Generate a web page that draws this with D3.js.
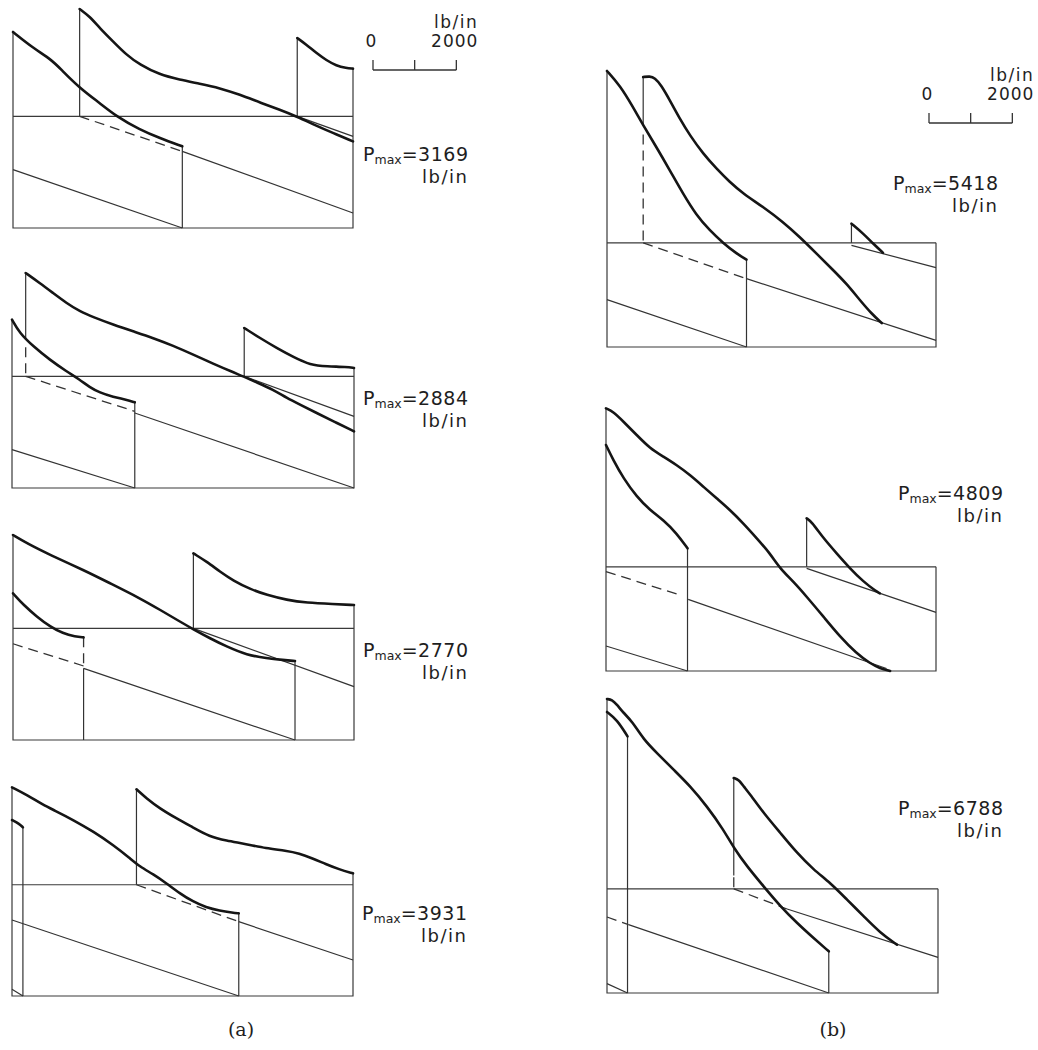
<!DOCTYPE html>
<meta charset="utf-8">
<script src="https://d3js.org/d3.v7.min.js"></script>
<style>
  body { margin: 0; background: #fff; }
  text { font-family: "DejaVu Sans", sans-serif; fill: #1e1e1e; }
</style>
<div id="chart"></div>
<script>
// pressure distributions, x = % of length, values in lb/in above the base line
var panelNames = ["a1", "a2", "a3", "a4", "b1", "b2", "b3"];
var pmaxValues = [3169, 2884, 2770, 3931, 5418, 4809, 6788];
var midLevels = [2680, 2680, 2680, 2670, 2500, 2500, 2500];
var leftEdgeTops = [4704, 4040, 4920, 5008, 6624, 6304, 7056];
var rightEdgeTops = [3824, 2880, 3240, 2944, 2500, 2500, 2500];
var scaleTicks = [0, 1000, 2000];

// ---- (a) ----
var a1Thick = [
  [[0,4704],[5.9,4320],[11.3,4040],[14.2,3800],[19.6,3360],[25.5,3000],[30.4,2680],[37.3,2360],[43.1,2160],[49.8,1960]],
  [[19.6,5256],[22.5,5080],[25.5,4800],[29.4,4480],[33.3,4160],[37.3,3920],[43.1,3680],[49.0,3560],[54.9,3464],[60.8,3360],[66.7,3200],[72.5,3016],[78.4,2840],[83.3,2680],[89.2,2456],[94.1,2280],[100,2080]],
  [[83.6,4560],[86.3,4400],[89.2,4200],[92.2,4024],[95.1,3896],[98.0,3840],[100,3824]]
];
var a1Thin = [
  [[19.6,2680],[19.6,5256]], [[49.8,1960],[49.8,0]], [[83.6,2680],[83.6,4560]],
  [[49.8,1840],[100,360]], [[83.6,2680],[100,2200]], [[0,1400],[49.8,0]]
];
var a1Dashed = [ [[19.6,2680],[49.8,1840]] ];

var a2Thick = [
  [[0,4040],[2.2,3720],[6.2,3400],[11.0,3080],[15.9,2800],[19.8,2600],[22.7,2420],[25.6,2290],[29.6,2184],[33.5,2120],[35.9,2056]],
  [[4.0,5160],[8.1,4920],[12.0,4680],[15.9,4440],[19.8,4240],[23.7,4104],[29.6,3920],[35.4,3760],[41.3,3600],[47.1,3416],[53.0,3200],[58.8,2984],[64.7,2776],[67.6,2680],[71.5,2536],[76.4,2360],[80.3,2160],[84.2,2000],[89.1,1800],[94.0,1600],[100,1360]],
  [[67.9,3840],[72.5,3600],[77.4,3360],[82.3,3144],[87.2,2952],[92.1,2920],[97.9,2904],[100,2880]]
];
var a2Thin = [
  [[4.0,5160],[4.0,3600]], [[35.9,2056],[35.9,0]], [[67.9,2680],[67.9,3840]],
  [[35.9,1800],[100,0]], [[67.9,2680],[100,1720]], [[0,920],[35.9,0]]
];
var a2Dashed = [ [[4.0,2680],[35.9,1840]], [[4.0,3380],[4.0,2680]] ];

var a3Thick = [
  [[0,4920],[4.1,4720],[10.9,4440],[20.7,4080],[28.5,3760],[37.3,3400],[43.2,3120],[49.0,2840],[52.9,2656],[57.8,2440],[62.7,2240],[68.6,2040],[74.4,1960],[79.3,1920],[82.7,1896]],
  [[0,3520],[3.1,3240],[7.0,2960],[10.9,2720],[14.6,2560],[18.3,2480],[20.7,2464]],
  [[52.9,4480],[56.8,4280],[60.7,4040],[64.6,3824],[69.5,3624],[74.4,3480],[80.3,3360],[86.1,3296],[93.9,3264],[100,3240]]
];
var a3Thin = [
  [[20.7,1720],[20.7,0]], [[82.7,1896],[82.7,0]], [[52.9,2680],[52.9,4480]],
  [[20.7,1720],[82.7,0]], [[52.9,2680],[100,1280]]
];
var a3Dashed = [ [[0,2310],[20.7,1776]], [[20.7,2464],[20.7,1720]] ];

var a4Thick = [
  [[0,5008],[4.4,4824],[9.2,4584],[12.2,4464],[18.0,4224],[23.9,3944],[29.7,3624],[34.6,3304],[37.5,3104],[41.4,2924],[45.3,2704],[49.2,2464],[53.1,2264],[56.9,2128],[60.9,2048],[64.8,2000],[66.5,1984]],
  [[36.5,4960],[39.4,4744],[43.3,4504],[48.2,4264],[53.0,4048],[57.9,3824],[62.8,3728],[68.6,3648],[74.5,3544],[80.4,3488],[84.2,3424],[88.1,3304],[92.0,3168],[95.9,3040],[100,2944]],
  [[0,4224],[2.2,4130],[3.2,4048]]
];
var a4Thin = [
  [[3.2,4048],[3.2,0]], [[0,160],[3.2,0]], [[36.5,2670],[36.5,4960]],
  [[66.5,1984],[66.5,0]], [[66.5,1784],[100,864]], [[0,1824],[66.5,0]]
];
var a4Dashed = [ [[36.5,2670],[66.5,1784]] ];

// ---- (b) ----
var b1Thick = [
  [[0,6624],[3.9,6280],[7.9,5760],[11.0,5320],[15.0,4800],[19.1,4240],[23.1,3680],[27.2,3160],[31.2,2800],[35.3,2496],[39.4,2240],[42.4,2096]],
  [[11.0,6480],[13.0,6496],[14.5,6464],[16.5,6280],[19.1,5920],[22.1,5480],[25.2,5080],[29.2,4640],[33.3,4280],[37.3,3960],[41.4,3680],[47.5,3360],[53.5,3000],[58.6,2640],[63.7,2240],[68.8,1840],[72.8,1520],[76.9,1120],[80.4,800],[83.5,576]],
  [[74.3,2960],[77.9,2720],[80.9,2480],[83.9,2260]]
];
var b1Thin = [
  [[11.0,6480],[11.0,5320]], [[42.4,2096],[42.4,0]], [[74.3,2500],[74.3,2960]],
  [[42.4,1640],[100,160]], [[74.3,2440],[100,1904]], [[0,1136],[42.4,0]]
];
var b1Dashed = [ [[11.0,2500],[42.4,1640]], [[11.0,5100],[11.0,2500]] ];

var b2Thick = [
  [[0,6304],[2.2,6224],[5.3,5984],[9.3,5664],[13.3,5344],[17.4,5144],[21.4,4944],[25.5,4704],[29.5,4424],[33.5,4144],[37.6,3864],[41.6,3544],[45.7,3184],[49.7,2824],[52.7,2464],[56.8,2144],[60.8,1784],[65.9,1304],[70.9,824],[75.9,424],[80.0,184],[83.0,64],[86.1,0]],
  [[0,5424],[2.2,5064],[5.3,4624],[9.3,4184],[13.3,3864],[17.4,3624],[21.4,3304],[24.7,2944]],
  [[60.8,3664],[62.3,3584],[65.9,3184],[69.9,2824],[73.9,2464],[78.0,2144],[82.0,1904],[83.0,1864]]
];
var b2Thin = [
  [[24.7,2944],[24.7,0]], [[60.8,2500],[60.8,3664]],
  [[24.9,1720],[85,60]], [[60.8,2464],[100,1408]], [[0,600],[24.7,0]]
];
var b2Dashed = [ [[0,2384],[22.4,1824]] ];

var b3Thick = [
  [[0,7056],[1.5,7040],[3.0,6920],[5.0,6720],[7.6,6520],[11.1,6080],[15.1,5760],[20.1,5360],[25.2,4960],[30.2,4480],[35.2,3920],[38.3,3480],[42.3,3040],[47.3,2560],[52.4,2080],[57.4,1680],[62.4,1320],[67.0,1000]],
  [[0,6744],[3.0,6560],[6.2,6160]],
  [[38.3,5160],[39.8,5120],[41.3,4960],[43.3,4760],[47.3,4320],[52.4,3840],[57.4,3360],[62.4,2960],[67.5,2640],[72.5,2240],[77.6,1840],[82.6,1440],[87.6,1160]]
];
var b3Thin = [
  [[6.2,6160],[6.2,0]], [[67.0,1000],[67.0,0]], [[38.3,5160],[38.3,2820]],
  [[54.4,2016],[100,856]], [[6.5,1640],[67.0,0]], [[0,224],[6.2,0]]
];
var b3Dashed = [ [[38.3,2500],[54.4,2016]], [[0,1824],[6.5,1640]], [[38.3,2780],[38.3,2500]] ];

var thickSets = [a1Thick, a2Thick, a3Thick, a4Thick, b1Thick, b2Thick, b3Thick];
var thinSets = [a1Thin, a2Thin, a3Thin, a4Thin, b1Thin, b2Thin, b3Thin];
var dashedSets = [a1Dashed, a2Dashed, a3Dashed, a4Dashed, b1Dashed, b2Dashed, b3Dashed];

// ---- layout (pixels) ----
var lbPerPx = 24;
var layout = [
  {left: 13, right: 353, bottom: 228, labelX: 363, labelY: 161},
  {left: 12, right: 354, bottom: 488, labelX: 363, labelY: 405},
  {left: 13, right: 354, bottom: 740, labelX: 363, labelY: 657},
  {left: 12, right: 353, bottom: 996, labelX: 362, labelY: 920},
  {left: 607, right: 936, bottom: 347, labelX: 893, labelY: 190},
  {left: 606, right: 936, bottom: 671, labelX: 898, labelY: 500},
  {left: 607, right: 938, bottom: 993, labelX: 898, labelY: 815}
];
var scaleBars = [{x: 373, y: 70}, {x: 929, y: 123}];

var svg = d3.select("#chart").append("svg")
  .attr("width", 1038)
  .attr("height", 1050);

panelNames.forEach(function(name, i) {
  var p = layout[i];
  var x = d3.scaleLinear().domain([0, 100]).range([p.left, p.right]);
  var y = d3.scaleLinear().domain([0, 1000]).range([p.bottom, p.bottom - 1000 / lbPerPx]);
  var g = svg.append("g").attr("class", "panel-" + name);

  var straight = d3.line().x(function(d) { return x(d[0]); }).y(function(d) { return y(d[1]); });
  var smooth = d3.line().x(function(d) { return x(d[0]); }).y(function(d) { return y(d[1]); })
    .curve(d3.curveBasis);

  // frame: base, mid level and the two end lines
  var frame = [
    [[0, leftEdgeTops[i]], [0, 0], [100, 0], [100, rightEdgeTops[i]]],
    [[0, midLevels[i]], [100, midLevels[i]]]
  ];
  g.selectAll(".frame").data(frame).enter().append("path")
    .attr("d", straight)
    .attr("fill", "none").attr("stroke", "#3a3a3a").attr("stroke-width", 1.2);

  g.selectAll(".thin").data(thinSets[i]).enter().append("path")
    .attr("d", straight)
    .attr("fill", "none").attr("stroke", "#333").attr("stroke-width", 1.2);

  g.selectAll(".dash").data(dashedSets[i]).enter().append("path")
    .attr("d", straight)
    .attr("fill", "none").attr("stroke", "#333").attr("stroke-width", 1.3)
    .attr("stroke-dasharray", "10,6");

  g.selectAll(".thick").data(thickSets[i]).enter().append("path")
    .attr("d", smooth)
    .attr("fill", "none").attr("stroke", "#151515").attr("stroke-width", 2.6)
    .attr("stroke-linejoin", "round").attr("stroke-linecap", "round");

  // Pmax label
  var t = g.append("text")
    .attr("x", p.labelX).attr("y", p.labelY)
    .style("font-size", "19px");
  t.append("tspan").text("P");
  t.append("tspan").attr("dy", 3).style("font-size", "12.5px").text("max");
  t.append("tspan").attr("dy", -3).style("letter-spacing", "0.5px").text("=" + pmaxValues[i]);
  var w = t.node().getComputedTextLength();
  g.append("text")
    .attr("x", p.labelX + w).attr("y", p.labelY + 22)
    .attr("text-anchor", "end")
    .style("font-size", "18px").style("letter-spacing", "1.5px")
    .text("lb/in");
});

// 2000 lb/in scale bars
scaleBars.forEach(function(s) {
  var sx = d3.scaleLinear().domain([0, 2000]).range([s.x, s.x + 2000 / lbPerPx]);
  var g = svg.append("g");
  g.append("line")
    .attr("x1", sx(0)).attr("x2", sx(2000)).attr("y1", s.y).attr("y2", s.y)
    .attr("stroke", "#333").attr("stroke-width", 1.3);
  g.selectAll(".tick").data(scaleTicks).enter().append("line")
    .attr("x1", function(d) { return sx(d); }).attr("x2", function(d) { return sx(d); })
    .attr("y1", s.y).attr("y2", s.y - 10)
    .attr("stroke", "#333").attr("stroke-width", 1.3);
  g.append("text").attr("x", sx(0) - 2).attr("y", s.y - 23)
    .attr("text-anchor", "middle").style("font-size", "17px").text("0");
  g.append("text").attr("x", sx(2000) + 22).attr("y", s.y - 23)
    .attr("text-anchor", "end").style("font-size", "17px").style("letter-spacing", "1px").text("2000");
  g.append("text").attr("x", sx(2000) + 22).attr("y", s.y - 42)
    .attr("text-anchor", "end").style("font-size", "17px").style("letter-spacing", "1.5px").text("lb/in");
});

// figure captions
svg.selectAll(".caption").data(["(a)", "(b)"]).enter().append("text")
  .attr("x", function(d, i) { return i === 0 ? 241 : 833; })
  .attr("y", 1036)
  .attr("text-anchor", "middle")
  .style("font-family", "'DejaVu Serif', serif")
  .style("font-size", "19px")
  .text(function(d) { return d; });
</script>
